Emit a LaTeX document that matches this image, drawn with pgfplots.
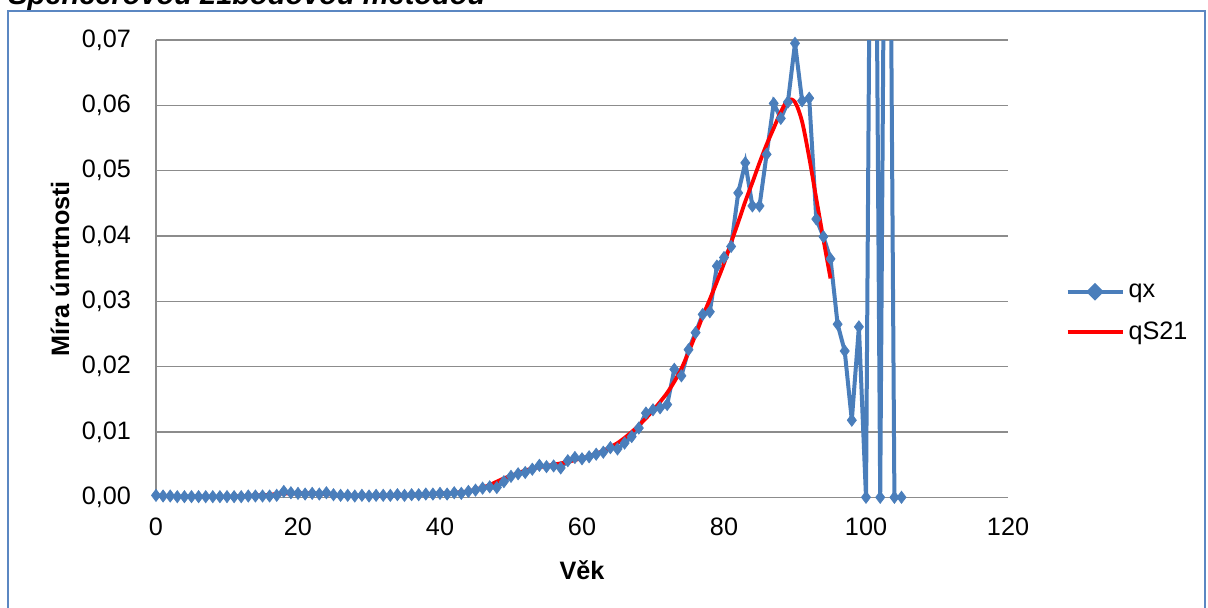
\documentclass[border=0pt]{standalone}
\usepackage{pgfplots}
\pgfplotsset{compat=1.18}
\usepackage{pgfplotstable}
\usepackage{fontspec}
\setmainfont{Liberation Sans}
\definecolor{qxblue}{HTML}{4A7EBB}
\definecolor{gridgray}{HTML}{8C8C8C}
\definecolor{frameblue}{HTML}{5B87C2}

\pgfplotstableread{
x y
0 0.0003
1 0.0002
2 0.0002
3 0.0001
4 0.0001
5 0.0001
6 0.0001
7 0.0001
8 0.0001
9 0.0001
10 0.0001
11 0.0001
12 0.0001
13 0.0002
14 0.0002
15 0.0002
16 0.0002
17 0.0003
18 0.0009
19 0.0007
20 0.0006
21 0.0005
22 0.0006
23 0.0005
24 0.0007
25 0.0004
26 0.0003
27 0.0003
28 0.0002
29 0.0003
30 0.0002
31 0.0003
32 0.0003
33 0.0003
34 0.0004
35 0.0003
36 0.0004
37 0.0004
38 0.0005
39 0.0005
40 0.0006
41 0.0005
42 0.0007
43 0.0006
44 0.0009
45 0.0011
46 0.0014
47 0.0016
48 0.0015
49 0.0024
50 0.0032
51 0.0036
52 0.0038
53 0.0043
54 0.0049
55 0.0047
56 0.0048
57 0.0045
58 0.0056
59 0.0061
60 0.0059
61 0.0062
62 0.0066
63 0.0069
64 0.0076
65 0.0074
66 0.0083
67 0.0093
68 0.0106
69 0.0129
70 0.0134
71 0.0137
72 0.0142
73 0.0196
74 0.0186
75 0.0226
76 0.0252
77 0.0280
78 0.0284
79 0.0354
80 0.0367
81 0.0384
82 0.0466
83 0.0512
84 0.0446
85 0.0446
86 0.0525
87 0.0603
88 0.0580
89 0.0605
90 0.0695
91 0.0607
92 0.0611
93 0.0426
94 0.0399
95 0.0365
96 0.0265
97 0.0224
98 0.0118
99 0.0261
100 0
101 0.16
102 0
103 0.16
104 0
105 0
}\qxtable

\pgfplotstableread{
x y
10 0.0001
11 0.0001
12 0.0002
13 0.0002
14 0.0003
15 0.0003
16 0.0004
17 0.0005
18 0.0006
19 0.0006
20 0.0006
21 0.0006
22 0.0006
23 0.0005
24 0.0005
25 0.0004
26 0.0003
27 0.0003
28 0.0002
29 0.0002
30 0.0002
31 0.0002
32 0.0002
33 0.0003
34 0.0003
35 0.0003
36 0.0004
37 0.0004
38 0.0005
39 0.0005
40 0.0006
41 0.0006
42 0.0007
43 0.0008
44 0.0009
45 0.0012
46 0.0015
47 0.0019
48 0.0024
49 0.0029
50 0.0033
51 0.0037
52 0.0041
53 0.0044
54 0.0046
55 0.0048
56 0.0050
57 0.0052
58 0.0054
59 0.0057
60 0.0060
61 0.0063
62 0.0067
63 0.0071
64 0.0077
65 0.0083
66 0.0091
67 0.0100
68 0.0110
69 0.0121
70 0.0133
71 0.0146
72 0.0160
73 0.0177
74 0.0197
75 0.0222
76 0.0249
77 0.0277
78 0.0303
79 0.0330
80 0.0358
81 0.0390
82 0.0421
83 0.0453
84 0.0482
85 0.0512
86 0.0540
87 0.0565
88 0.0590
89 0.0608
90 0.0605
91 0.0575
92 0.0520
93 0.0457
94 0.0395
95 0.0335
}\qstable

\begin{document}
\begin{tikzpicture}
\useasboundingbox (0,0) rectangle (604pt,303.5pt);
\node[anchor=base west, inner sep=0pt, font=\fontsize{14.5}{17}\selectfont\bfseries\itshape] at (4pt,301.5pt) {Spencerovou 21bodovou metodou};
\draw[frameblue, line width=0.75pt] (4pt,-5pt) -- (4pt,298pt) -- (602.5pt,298pt) -- (602.5pt,-5pt);
\begin{axis}[
  at={(78pt,54.85pt)}, anchor=south west,
  scale only axis, width=426pt, height=228.65pt,
  xmin=0, xmax=120, ymin=0, ymax=0.07,
  xtick={0,20,...,120},
  ytick={0,0.01,0.02,0.03,0.04,0.05,0.06,0.07},
  axis x line*=bottom, axis y line*=left,
  axis line style={gridgray, line width=0.75pt, -},
  major tick length=0pt,
  ymajorgrids, grid style={gridgray, line width=0.75pt},
  tick label style={font=\fontsize{12.6}{15}\selectfont},
  /pgf/number format/assume math mode=true,
  yticklabel style={xshift=-9pt, /pgf/number format/.cd, fixed, fixed zerofill, precision=2, use comma},
  xticklabel style={yshift=-7pt},
  scaled y ticks=false,
  xlabel={\textbf{Věk}}, ylabel={\textbf{Míra úmrtnosti}},
  label style={font=\fontsize{12.6}{15}\selectfont},
  xlabel style={at={(axis description cs:0.5,-0.159)}, anchor=center},
  ylabel style={at={(axis description cs:-0.1127,0.5)}, anchor=center},
  legend style={at={(1.067,0.403)}, anchor=west, draw=none, fill=none,
    font=\fontsize{12.6}{15}\selectfont, row sep=7pt, inner sep=0pt},
  legend cell align=left,
]
\addplot[qxblue, line width=2pt, no marks,
  legend image code/.code={
    \draw[qxblue, line width=2pt] (0pt,0pt) -- (27.5pt,0pt);
    \fill[qxblue] (13.75pt,0pt) ++(0,3pt) -- ++(3pt,-3pt) -- ++(-3pt,-3pt) -- ++(-3pt,3pt) -- cycle;
  }] table[x=x,y=y] {\qxtable};
\addlegendentry{qx}
\addplot[qxblue, only marks, mark=diamond*, mark size=3pt, mark options={fill=qxblue, draw=qxblue},
  restrict y to domain=-1:0.07, unbounded coords=discard, forget plot] table[x=x,y=y] {\qxtable};
\addplot[red, line width=1.9pt, smooth, no marks,
  legend image code/.code={
    \draw[red, line width=1.9pt] (0pt,0pt) -- (27.5pt,0pt);
  }] table[x=x,y=y] {\qstable};
\addlegendentry{qS21}
\end{axis}
\end{tikzpicture}
\end{document}
